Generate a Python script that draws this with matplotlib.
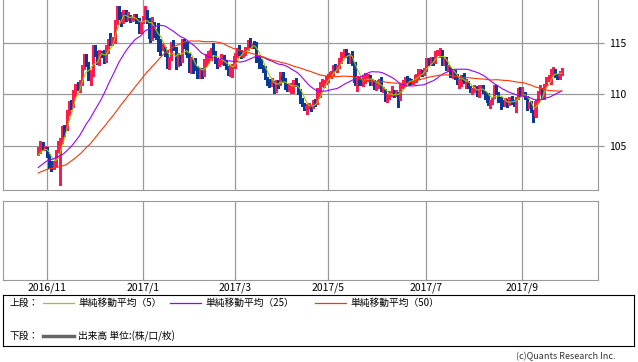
import numpy as np
import pandas as pd
import matplotlib
matplotlib.use("Agg")
import matplotlib.pyplot as plt

plt.rcParams['font.family'] = ['Noto Sans CJK JP', 'DejaVu Sans']

### DATA
# closes before the first drawn day, only used so the moving averages start properly
warmup_close = [99.9, 100.2, 100.7, 100.2, 100.5, 100.5, 101.8, 102.0, 102.9, 103.4,
                103.3, 104.0, 103.4, 101.7, 101.8, 102.1, 102.6, 101.9, 102.5, 102.3,
                102.0, 102.3, 101.8, 101.7, 100.3, 100.7, 101.0, 100.4, 100.7, 101.6,
                101.0, 101.3, 101.7, 102.9, 103.5, 104.0, 102.9, 103.6, 103.6, 104.2,
                103.7, 104.2, 103.9, 103.9, 103.4, 103.9, 103.8, 104.2, 104.2]

first_day = "2016-10-26"
last_day = "2017-09-27"

# daily candles (weekdays), open = previous close
close = [
    104.35, 105.25, 104.70, 104.80,
    104.10, 103.25, 103.05, 103.10, 104.45, 105.15, 105.70, 106.85, 106.65, 108.40, 109.10,
    109.05, 110.25, 110.90, 110.80, 111.05, 112.50, 113.30, 113.20, 111.45, 111.90, 114.45,
    114.05, 113.50, 114.00, 113.95, 113.75, 114.05, 115.25, 115.10, 115.40, 117.10, 118.15,
    117.90, 117.00, 117.85, 117.55, 117.60, 117.30, 117.40, 117.45, 117.15, 116.35, 116.90,
    117.50, 117.80, 117.25, 115.40, 117.00, 115.85, 115.75, 115.40, 114.45, 114.50, 114.20,
    112.70, 113.40, 114.95, 114.60, 112.80, 113.80, 113.30, 115.30, 115.10, 113.80, 112.70,
    113.20, 112.75, 112.60, 112.30, 112.30, 111.90, 113.20, 113.25, 113.70, 114.30, 114.20,
    113.30, 112.90, 113.15, 113.65, 113.30, 112.60, 112.10, 112.70, 112.75,
    113.75, 114.40, 114.00, 113.95, 113.95, 114.40, 115.00, 114.80, 114.80, 114.75, 113.35,
    113.30, 112.70, 112.60, 111.70, 111.20, 111.00, 111.30, 110.60, 111.10, 111.00, 111.80, 111.40,
    110.75, 110.70, 110.70, 110.80, 111.10, 111.00, 110.40, 109.40, 109.10, 108.60, 108.90,
    108.90, 108.80, 109.30, 109.10, 110.00, 111.10, 111.10, 111.30, 111.50,
    111.90, 112.20, 112.75, 112.50, 112.70, 113.30, 113.95, 114.20, 113.90, 113.40, 113.80,
    113.15, 111.10, 111.50, 111.30, 111.10, 111.60, 111.60, 111.80, 111.30, 111.30, 110.80, 110.80,
    111.40, 110.40, 110.50, 109.55, 109.80, 110.00, 110.30, 110.00, 110.10, 109.60, 110.90,
    110.90, 111.50, 111.45, 111.40, 111.30, 111.30, 111.85, 112.30, 112.30, 112.00, 112.40,
    113.40, 113.25, 113.25, 113.20, 113.90, 114.00, 114.00, 113.25, 113.30, 112.50, 112.60,
    111.90, 112.00, 111.95, 111.10, 111.10, 111.90, 111.25, 111.30, 110.70, 110.30,
    110.40, 110.75, 110.05, 110.70, 110.70, 110.30, 110.00, 109.20, 109.20, 109.70, 110.70,
    110.10, 109.60, 109.20, 109.00, 109.60, 109.00, 109.50, 109.30, 109.20, 109.70, 110.30, 110.00,
    110.25, 109.70, 108.75, 109.20, 108.40, 107.85, 109.40, 110.15, 110.45, 110.20, 110.80,
    111.60, 111.60, 112.25, 112.45, 111.95, 111.70, 111.90, 112.30]

high = [
    104.9, 105.5, 105.4, 105.0,
    104.9, 104.2, 103.5, 103.5, 104.6, 105.5, 105.8, 106.9, 107.0, 108.5, 109.4,
    109.5, 110.4, 111.0, 111.2, 111.4, 112.9, 113.9, 113.9, 113.2, 112.4, 114.8,
    114.8, 114.2, 114.3, 114.2, 114.3, 114.8, 115.4, 116.0, 115.6, 117.2, 118.6,
    118.6, 118.0, 118.2, 118.2, 118.0, 117.7, 117.5, 117.8, 117.8, 117.4, 117.0,
    117.6, 118.6, 118.2, 117.4, 117.5, 117.0, 116.4, 116.9, 115.4, 115.0, 114.6,
    114.3, 113.6, 115.1, 115.3, 114.0, 114.0, 113.8, 115.4, 115.4, 115.1, 114.0,
    113.6, 113.3, 113.5, 112.8, 112.6, 112.6, 113.4, 113.9, 114.2, 114.5, 114.95,
    114.2, 113.5, 113.3, 113.9, 113.8, 113.3, 112.8, 112.9, 113.0,
    114.0, 114.5, 114.8, 114.3, 114.2, 114.6, 115.3, 115.5, 115.0, 115.2, 115.1,
    113.6, 113.4, 112.9, 112.8, 111.7, 111.5, 111.6, 111.0, 111.4, 111.4, 112.2, 112.2,
    111.6, 111.0, 111.0, 111.1, 111.4, 111.6, 111.1, 110.5, 109.7, 109.2, 109.1,
    109.2, 109.0, 109.5, 109.6, 110.6, 111.2, 111.5, 111.4, 111.8,
    112.0, 112.3, 112.9, 113.0, 112.9, 113.5, 114.1, 114.4, 114.4, 114.0, 113.9,
    114.2, 113.2, 111.8, 111.7, 111.5, 111.8, 112.1, 112.0, 111.9, 111.5, 111.4, 111.2,
    111.5, 111.7, 110.7, 110.5, 110.0, 110.3, 110.8, 110.4, 110.4, 110.2, 111.0,
    111.4, 111.7, 111.8, 111.6, 111.5, 111.4, 112.0, 112.5, 112.5, 112.4, 112.6,
    113.5, 113.5, 113.6, 113.6, 114.2, 114.3, 114.5, 114.3, 113.5, 113.6, 112.9,
    112.7, 112.4, 112.4, 112.0, 111.5, 111.9, 112.1, 111.5, 111.3, 110.8,
    110.6, 110.9, 110.8, 110.9, 110.9, 110.9, 110.3, 110.1, 109.5, 109.8, 110.9,
    110.9, 110.2, 109.8, 109.5, 109.7, 109.6, 109.8, 109.9, 109.5, 109.8, 110.6, 110.7,
    110.7, 110.1, 109.9, 109.3, 109.4, 108.5, 109.5, 110.3, 110.9, 110.6, 111.0,
    111.7, 111.9, 112.5, 112.7, 112.5, 112.0, 112.3, 112.6]

low = [
    104.1, 104.3, 104.6, 104.6,
    103.9, 102.9, 102.6, 102.8, 103.2, 104.4, 101.2, 105.3, 106.0, 106.6, 108.0,
    108.6, 108.8, 109.9, 110.4, 110.2, 110.9, 112.5, 112.8, 111.4, 110.9, 111.8,
    113.7, 113.0, 112.9, 113.6, 113.1, 113.2, 114.0, 114.8, 114.8, 115.0, 116.8,
    117.3, 116.6, 116.9, 117.1, 117.2, 117.0, 117.1, 117.2, 116.9, 116.0, 116.0,
    116.9, 117.3, 116.9, 115.1, 115.3, 115.6, 115.4, 114.2, 113.8, 114.3, 113.7,
    112.6, 112.5, 113.3, 114.3, 112.5, 112.9, 112.9, 113.2, 114.5, 113.6, 112.2,
    112.1, 112.1, 112.4, 111.6, 111.6, 111.6, 111.8, 112.8, 113.1, 113.3, 113.9,
    113.1, 112.6, 112.8, 113.0, 112.9, 112.5, 111.9, 111.8, 111.7,
    112.6, 113.6, 113.8, 113.5, 113.6, 113.8, 114.3, 114.6, 114.5, 114.5, 113.2,
    112.6, 112.6, 112.2, 111.5, 110.9, 110.7, 110.8, 110.1, 110.2, 110.6, 110.9, 111.2,
    110.5, 110.3, 110.3, 110.1, 110.1, 110.8, 110.0, 109.2, 108.9, 108.5, 108.1,
    108.6, 108.4, 108.7, 108.9, 109.6, 109.8, 110.8, 110.7, 111.0,
    111.2, 111.6, 111.9, 112.4, 112.2, 112.6, 113.1, 113.6, 113.6, 113.1, 113.1,
    112.9, 110.9, 110.3, 110.9, 110.9, 110.8, 111.1, 111.3, 110.9, 110.9, 110.5, 110.4,
    110.6, 110.3, 110.2, 109.4, 109.3, 109.6, 109.9, 109.8, 109.9, 108.8, 109.5,
    110.6, 110.8, 111.2, 110.9, 111.0, 111.0, 111.2, 111.5, 111.8, 111.8, 111.9,
    112.3, 112.9, 112.9, 112.9, 113.1, 113.8, 113.6, 112.9, 112.9, 112.4, 112.3,
    111.7, 111.6, 111.5, 111.0, 110.6, 110.8, 111.1, 110.6, 110.6, 110.2,
    110.0, 110.2, 109.9, 109.8, 110.4, 110.1, 109.6, 109.0, 108.7, 109.1, 109.7,
    110.0, 109.3, 108.6, 108.9, 108.9, 108.8, 109.0, 109.1, 108.9, 108.3, 109.6, 109.9,
    109.9, 109.6, 108.5, 108.7, 108.3, 107.3, 108.4, 109.3, 110.0, 109.6, 109.6,
    110.9, 111.3, 111.0, 111.8, 111.7, 111.5, 111.5, 111.9]

ma_periods = [5, 25, 50]
ma_labels = ["単純移動平均（5）", "単純移動平均（25）", "単純移動平均（50）"]
ma_colors = ["#99cc00", "#9900ff", "#ff3300"]
tick_months = [(2016, 11), (2017, 1), (2017, 3), (2017, 5), (2017, 7), (2017, 9)]
y_ticks = [105, 110, 115]

up_color = "#ff1a4d"
down_color = "#0a3a99"
grid_color = "#999999"

### PREPARE
dates = pd.bdate_range(first_day, last_day)
n = len(close)
assert len(dates) == n == len(high) == len(low)
x = np.arange(n)

c = np.array(close)
o = np.array([warmup_close[-1]] + close[:-1])
h = np.maximum(np.array(high), np.maximum(o, c))
l = np.minimum(np.array(low), np.minimum(o, c))
all_close = pd.Series(warmup_close + close)

tick_pos = [int(np.argmax((dates.year == yy) & (dates.month == mm))) for yy, mm in tick_months]
tick_text = ["%d/%d" % (yy, mm) for yy, mm in tick_months]

W, H = 638, 362
fig = plt.figure(figsize=(W / 100, H / 100), dpi=100)

px = 2.181  # pixels per trading day in the reference
x_left = tick_pos[0] - 44 / px
x_right = tick_pos[0] + 551 / px

### UPPER PANEL (candles + moving averages)
ax = fig.add_axes([3 / W, (H - 190) / H, 595 / W, 190 / H])
ax.set_xlim(x_left, x_right)
ax.set_ylim(100.73, 119.17)

col = np.where(c >= o, up_color, down_color)
ax.vlines(x, l, h, colors=col, lw=0.9, zorder=2, antialiased=False)
body = np.maximum(np.abs(c - o), 0.1)
ax.bar(x, body, bottom=np.minimum(o, c), width=1.0, color=col, lw=0, zorder=2,
       antialiased=False)

for p, colr in zip(ma_periods, ma_colors):
    ma = all_close.rolling(p).mean().to_numpy()[-n:]
    ax.plot(x, ma, color=colr, lw=0.8, zorder=3)

ax.set_xticks(tick_pos)
ax.set_yticks(y_ticks)
ax.yaxis.tick_right()
ax.tick_params(axis='x', length=0, labelbottom=False)
ax.tick_params(axis='y', length=4, width=0.9, color=grid_color, labelsize=7.5, pad=4)
ax.grid(True, color=grid_color, lw=0.9)
ax.set_axisbelow(True)
for s in ["left", "right", "bottom"]:
    ax.spines[s].set_color(grid_color)
ax.spines["top"].set_visible(False)

### LOWER PANEL (volume, empty)
ax2 = fig.add_axes([3 / W, (H - 280) / H, 595 / W, 79 / H])
ax2.set_xlim(x_left, x_right)
ax2.set_ylim(0, 1)
ax2.set_yticks([])
ax2.set_xticks(tick_pos)
ax2.set_xticklabels(tick_text, fontsize=7.5)
ax2.tick_params(axis='x', length=0, pad=1.5)
ax2.grid(True, axis='x', color=grid_color, lw=0.9)
for s in ax2.spines.values():
    s.set_color(grid_color)

### LEGEND BOX
lg = fig.add_axes([3 / W, (H - 346) / H, 631 / W, 51 / H])
lg.set_xlim(3, 634)
lg.set_ylim(346, 295)
lg.set_xticks([])
lg.set_yticks([])
for s in lg.spines.values():
    s.set_color("black")
    s.set_linewidth(0.8)

row1, row2 = 303, 336
lg.text(10, row1, "上段：", fontsize=7, va='center')
line_x = [43, 170, 315]
for lx, lab, colr in zip(line_x, ma_labels, ma_colors):
    lg.plot([lx, lx + 31], [row1, row1], color=colr, lw=0.9)
    lg.text(lx + 35, row1, lab, fontsize=7, va='center')

lg.text(10, row2, "下段：", fontsize=7, va='center')
lg.plot([43, 74], [row2, row2], color="#666666", lw=2.5)
lg.text(78, row2, "出来高 単位:(株/口/枚)", fontsize=7, va='center')

fig.text(615 / W, 1 - 357 / H, "(c)Quants Research Inc.", fontsize=6.5,
         color="#333333", ha='right', va='center')

fig.savefig("out.png", dpi=100)
